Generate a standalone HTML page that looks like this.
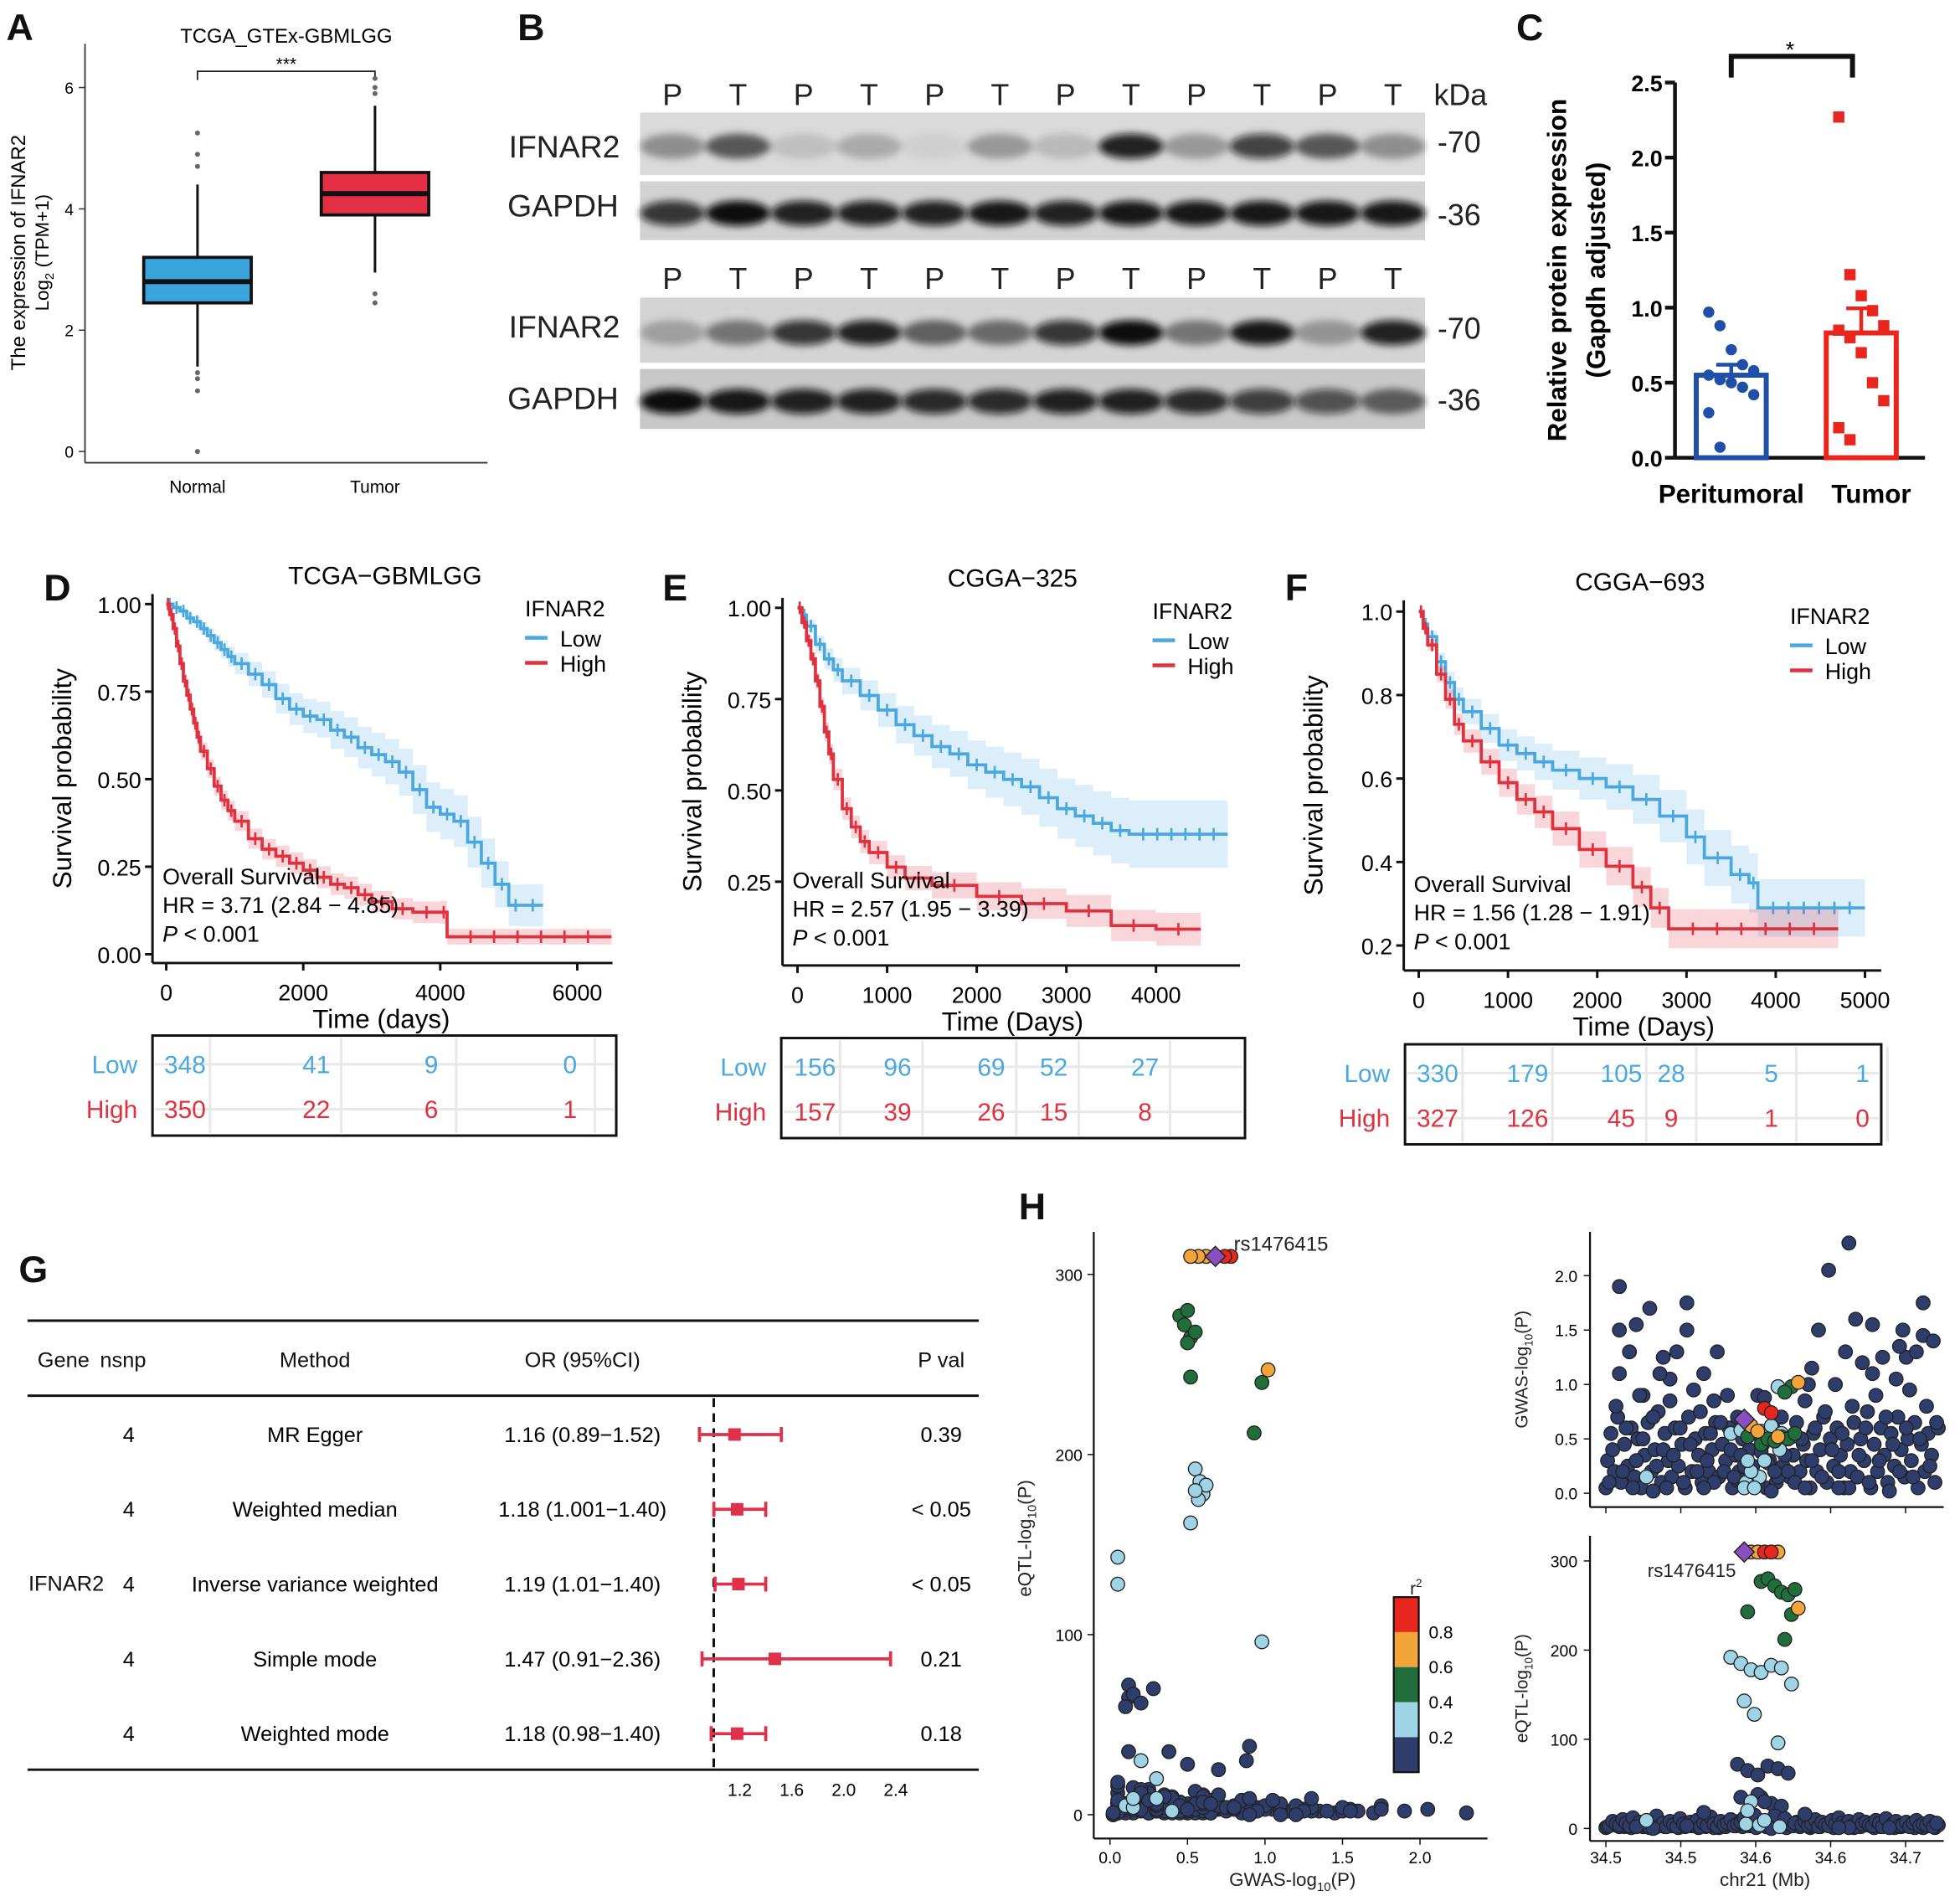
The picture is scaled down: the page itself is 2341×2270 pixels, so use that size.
<!DOCTYPE html>
<html><head><meta charset="utf-8">
<style>
html,body{margin:0;padding:0;background:#fff;}
svg{display:block;font-family:"Liberation Sans",Arial,sans-serif;}
</style></head>
<body>
<svg id="fig" width="2341" height="2270" viewBox="0 0 1568 1520" preserveAspectRatio="none" xmlns="http://www.w3.org/2000/svg">
<defs><filter id="blur" x="-30%" y="-80%" width="160%" height="260%"><feGaussianBlur stdDeviation="3"/></filter></defs>
<rect width="1568" height="1520" fill="#fff"/>
<g font-weight="bold" font-size="30" fill="#111">
<text x="5" y="32">A</text>
<text x="414" y="32">B</text>
<text x="1213" y="32">C</text>
<text x="35" y="480">D</text>
<text x="530" y="480">E</text>
<text x="1028" y="480">F</text>
<text x="15" y="1025">G</text>
<text x="815" y="975">H</text>
</g>
<g id="pA">
<text x="229" y="34" font-size="16" text-anchor="middle">TCGA_GTEx-GBMLGG</text>
<path d="M158 64 V57 H300 V64" fill="none" stroke="#222" stroke-width="1.2"/>
<text x="229" y="56" font-size="14" text-anchor="middle">***</text>
<line x1="68" y1="35" x2="68" y2="370" stroke="#333" stroke-width="1.2"/>
<line x1="68" y1="370" x2="390" y2="370" stroke="#333" stroke-width="1.2"/>
<text transform="translate(20,202) rotate(-90)" font-size="16" text-anchor="middle">The expression of IFNAR2</text>
<text transform="translate(39,202) rotate(-90)" font-size="15" text-anchor="middle">Log<tspan font-size="10" dy="4">2</tspan><tspan dy="-4"> (TPM+1)</tspan></text>
<text x="158" y="394" font-size="14" text-anchor="middle">Normal</text>
<text x="300" y="394" font-size="14" text-anchor="middle">Tumor</text>
</g>
<g id="pB">
<text x="407" y="126" font-size="25" fill="#222">IFNAR2</text>
<text x="406" y="173" font-size="25" fill="#222">GAPDH</text>
<text x="407" y="270" font-size="25" fill="#222">IFNAR2</text>
<text x="406" y="327" font-size="25" fill="#222">GAPDH</text>
<text x="1147" y="84" font-size="24" fill="#222">kDa</text>
<text x="1150" y="122" font-size="24" fill="#222">-70</text>
<text x="1150" y="180" font-size="24" fill="#222">-36</text>
<text x="1150" y="271" font-size="24" fill="#222">-70</text>
<text x="1150" y="328" font-size="24" fill="#222">-36</text>
</g>
<g id="pC">
<path d="M1385 62 V45 H1482 V62" fill="none" stroke="#111" stroke-width="4"/>
<text x="1432" y="46" font-size="18" text-anchor="middle">*</text>
<text transform="translate(1253,216) rotate(-90)" font-size="21" font-weight="bold" text-anchor="middle">Relative protein expression</text>
<text transform="translate(1284,216) rotate(-90)" font-size="21" font-weight="bold" text-anchor="middle">(Gapdh adjusted)</text>
<text x="1385" y="402" font-size="21" font-weight="bold" text-anchor="middle">Peritumoral</text>
<text x="1497" y="402" font-size="21" font-weight="bold" text-anchor="middle">Tumor</text>
</g>
<g id="pG" font-size="17" fill="#111">
<line x1="22" y1="1056" x2="783" y2="1056" stroke="#111" stroke-width="2"/>
<line x1="22" y1="1116" x2="783" y2="1116" stroke="#111" stroke-width="2"/>
<line x1="22" y1="1415" x2="783" y2="1415" stroke="#111" stroke-width="2"/>
<text x="30" y="1093">Gene</text>
<text x="80" y="1093">nsnp</text>
<text x="252" y="1093" text-anchor="middle">Method</text>
<text x="466" y="1093" text-anchor="middle">OR (95%CI)</text>
<text x="753" y="1093" text-anchor="middle">P val</text>
<text x="53" y="1272" text-anchor="middle">IFNAR2</text>
</g>
<g id="pH" font-size="13" fill="#222">
<line x1="875" y1="985" x2="875" y2="1470" stroke="#111" stroke-width="1.5"/>
<line x1="875" y1="1470" x2="1190" y2="1470" stroke="#111" stroke-width="1.5"/>
<text x="1034" y="1508" font-size="15" text-anchor="middle">GWAS-log<tspan font-size="10" dy="4">10</tspan><tspan dy="-4">(P)</tspan></text>
<text transform="translate(825,1230) rotate(-90)" font-size="15" text-anchor="middle">eQTL-log<tspan font-size="10" dy="4">10</tspan><tspan dy="-4">(P)</tspan></text>
<text x="987" y="1000" font-size="16">rs1476415</text>
<line x1="1272" y1="985" x2="1272" y2="1205" stroke="#111" stroke-width="1.5"/>
<line x1="1272" y1="1205" x2="1555" y2="1205" stroke="#111" stroke-width="1.5"/>
<text transform="translate(1222,1095) rotate(-90)" font-size="14" text-anchor="middle">GWAS-log<tspan font-size="9" dy="4">10</tspan><tspan dy="-4">(P)</tspan></text>
<line x1="1272" y1="1228" x2="1272" y2="1472" stroke="#111" stroke-width="1.5"/>
<line x1="1272" y1="1472" x2="1555" y2="1472" stroke="#111" stroke-width="1.5"/>
<text transform="translate(1222,1350) rotate(-90)" font-size="14" text-anchor="middle">eQTL-log<tspan font-size="9" dy="4">10</tspan><tspan dy="-4">(P)</tspan></text>
<text x="1412" y="1508" font-size="15" text-anchor="middle">chr21 (Mb)</text>
<text x="1318" y="1261" font-size="15">rs1476415</text>
<text x="1128" y="1275" font-size="14">r<tspan font-size="9" dy="-6">2</tspan></text>
</g>
<g id="dyn"></g>
</svg>
<script>
// ---------- DATA ----------
const boxGroups = ['Normal','Tumor'];
const boxQ1 = [2.45, 3.9];
const boxMed = [2.8, 4.25];
const boxQ3 = [3.2, 4.6];
const boxLo = [1.4, 2.95];
const boxHi = [4.4, 5.7];
const outNormal = [5.25, 4.7, 4.9, 1.2, 1.0, 0.0, 1.3];
const outTumor = [6.15, 6.0, 5.9, 2.6, 2.45];

const laneLabels = ['P','T','P','T','P','T','P','T','P','T','P','T'];
const blotIfnar1 = [0.35,0.6,0.12,0.22,0.05,0.3,0.15,0.9,0.3,0.75,0.6,0.35];
const blotGapdh1 = [0.8,1,0.9,0.9,0.9,0.95,0.9,0.95,0.95,0.95,0.95,0.95];
const blotIfnar2 = [0.25,0.45,0.8,0.9,0.55,0.5,0.8,1,0.45,0.95,0.3,0.9];
const blotGapdh2 = [1,0.95,0.9,0.9,0.85,0.85,0.9,0.9,0.85,0.75,0.65,0.55];

const cGroups = ['Peritumoral','Tumor'];
const cPeri = [0.97,0.88,0.72,0.62,0.58,0.55,0.52,0.5,0.47,0.42,0.3,0.07];
const cTumor = [2.27,1.22,1.08,0.98,0.88,0.85,0.8,0.7,0.5,0.38,0.2,0.12];
const cTicks = [0,0.5,1.0,1.5,2.0,2.5];

const dLowT = [0,100,200,300,400,500,600,700,800,900,1000,1200,1400,1600,1800,2000,2200,2400,2600,2800,3000,3200,3400,3600,3800,4000,4200,4400,4600,4800,5000,5200,5500];
const dLowS = [1,0.99,0.98,0.96,0.95,0.93,0.91,0.89,0.87,0.85,0.83,0.80,0.77,0.73,0.70,0.68,0.67,0.64,0.62,0.59,0.57,0.55,0.52,0.47,0.42,0.40,0.38,0.32,0.26,0.20,0.14,0.14,0.14];
const dHighT = [0,50,100,150,200,250,300,350,400,450,500,600,700,800,900,1000,1200,1400,1600,1800,2000,2200,2400,2600,2800,3000,3300,3600,4000,4100,6500];
const dHighS = [1,0.97,0.93,0.88,0.83,0.78,0.74,0.70,0.66,0.62,0.58,0.53,0.48,0.44,0.41,0.38,0.33,0.30,0.28,0.26,0.24,0.22,0.20,0.19,0.17,0.15,0.13,0.12,0.12,0.05,0.05];
const eLowT = [0,50,100,200,300,400,500,700,900,1100,1300,1500,1700,1900,2100,2300,2500,2700,2900,3100,3300,3500,3700,4800];
const eLowS = [1,0.98,0.95,0.9,0.86,0.83,0.8,0.76,0.72,0.68,0.65,0.62,0.6,0.57,0.55,0.53,0.51,0.48,0.45,0.43,0.41,0.39,0.38,0.38];
const eHighT = [0,50,100,150,200,250,300,350,400,500,600,700,800,1000,1200,1500,2000,2500,3000,3500,4000,4500];
const eHighS = [1,0.96,0.91,0.86,0.80,0.73,0.66,0.60,0.53,0.45,0.40,0.36,0.33,0.29,0.26,0.24,0.21,0.19,0.17,0.13,0.12,0.12];
const fLowT = [0,50,100,200,300,400,500,700,900,1100,1300,1500,1800,2100,2400,2700,3000,3200,3500,3700,3800,5000];
const fLowS = [1,0.97,0.94,0.88,0.83,0.79,0.76,0.72,0.68,0.66,0.64,0.62,0.60,0.58,0.55,0.51,0.46,0.41,0.37,0.35,0.29,0.29];
const fHighT = [0,50,100,200,300,400,500,700,900,1100,1300,1500,1800,2100,2400,2600,2800,4700];
const fHighS = [1,0.96,0.92,0.85,0.79,0.73,0.69,0.64,0.59,0.55,0.52,0.48,0.43,0.39,0.34,0.29,0.24,0.24];
const ciScale = {dLow:0.12,dHigh:0.09,eLow:0.15,eHigh:0.1,fLow:0.12,fHigh:0.1};

const dRiskLow = [348,41,9,0], dRiskHigh = [350,22,6,1];
const eRiskLow = [156,96,69,52,27], eRiskHigh = [157,39,26,15,8];
const fRiskLow = [330,179,105,28,5,1], fRiskHigh = [327,126,45,9,1,0];

const mrMethods = ['MR Egger','Weighted median','Inverse variance weighted','Simple mode','Weighted mode'];
const mrNsnp = [4,4,4,4,4];
const mrOR = [1.16,1.18,1.19,1.47,1.18];
const mrLo = [0.89,1.001,1.01,0.91,0.98];
const mrHi = [1.52,1.40,1.40,2.36,1.40];
const mrLoText = ['0.89','1.001','1.01','0.91','0.98'];
const mrHiText = ['1.52','1.40','1.40','2.36','1.40'];
const mrP = ['0.39','< 0.05','< 0.05','0.21','0.18'];
const mrTicks = [1.2,1.6,2.0,2.4];

// SNPs: [position(0-1), gwas -log10P, eqtl -log10P, r2 class]
const snpData = [
[0.44,0.62,310,3],[0.46,0.57,310,3],[0.48,0.78,310,4],[0.50,0.74,310,4],[0.52,0.52,310,3],
[0.47,0.45,277,2],[0.49,0.5,280,2],[0.51,0.48,272,2],[0.53,0.52,265,2],[0.55,0.5,262,2],[0.57,0.55,268,2],[0.58,1.02,247,3],[0.56,0.98,240,2],[0.54,0.93,212,2],[0.43,0.52,243,2],
[0.38,0.55,192,1],[0.41,0.58,185,1],[0.44,0.6,178,1],[0.47,0.57,175,1],[0.5,0.62,183,1],[0.53,0.55,180,1],[0.56,0.52,162,1],[0.42,0.05,143,1],[0.45,0.05,128,1],[0.52,0.98,96,1],
[0.4,0.12,72,0],[0.43,0.12,65,0],[0.46,0.1,60,0],[0.49,0.28,70,0],[0.52,0.15,67,0],[0.55,0.2,62,0],
[0.41,0.12,35,0],[0.44,0.2,30,1],[0.47,0.38,35,0],[0.5,0.5,28,0],[0.53,0.7,25,0],[0.46,0.9,38,0],[0.48,0.88,30,0],[0.43,0.3,20,1],
[0.02,0.1,3,0],[0.03,0.4,8,0],[0.04,0.8,5,0],[0.05,1.9,2,0],[0.05,1.5,4,0],[0.06,0.2,10,0],[0.07,0.6,6,0],[0.08,1.3,3,0],[0.09,0.05,12,0],[0.1,0.3,2,0],
[0.11,0.9,7,0],[0.12,0.5,4,0],[0.13,0.15,9,1],[0.14,1.7,1,0],[0.15,0.7,5,0],[0.16,0.25,14,0],[0.17,1.1,3,0],[0.18,0.4,6,0],[0.19,0.05,2,0],[0.2,0.85,8,0],
[0.21,0.35,4,0],[0.22,1.3,2,0],[0.23,0.6,11,0],[0.24,0.1,5,0],[0.25,1.5,3,0],[0.26,0.45,7,0],[0.27,0.95,4,0],[0.28,0.2,9,0],[0.29,0.75,2,0],[0.3,1.1,6,0],
[0.31,0.3,3,0],[0.32,0.55,13,0],[0.33,0.1,5,0],[0.34,1.3,2,0],[0.35,0.65,8,0],[0.36,0.2,4,0],[0.37,0.9,6,0],[0.38,0.4,10,0],[0.39,0.15,3,0],[0.4,0.7,5,0],
[0.41,0.35,7,0],[0.42,0.25,12,0],[0.45,0.15,15,0],[0.48,0.3,9,1],[0.51,0.2,14,0],[0.54,0.35,11,0],[0.57,0.1,6,0],[0.59,0.5,4,0],[0.6,0.85,8,0],[0.61,1.0,3,0],
[0.62,0.3,5,0],[0.63,0.6,10,0],[0.64,1.5,2,0],[0.65,0.15,7,0],[0.66,0.75,4,0],[0.67,2.05,3,0],[0.68,0.4,9,0],[0.69,1.0,5,0],[0.7,0.2,12,0],[0.71,0.55,6,0],
[0.72,1.3,4,0],[0.73,0.05,8,0],[0.74,0.8,3,0],[0.75,1.6,2,0],[0.76,0.35,10,0],[0.77,1.2,5,0],[0.78,0.6,7,0],[0.79,0.1,4,0],[0.8,1.55,3,0],[0.81,0.9,9,0],
[0.82,0.3,6,0],[0.83,1.25,2,0],[0.84,0.7,11,0],[0.73,2.3,1,0],[0.86,0.45,5,0],[0.87,1.05,8,0],[0.88,0.2,3,0],[0.89,1.5,4,0],[0.9,0.6,7,0],[0.91,0.95,2,0],
[0.92,0.15,6,0],[0.93,1.3,9,0],[0.94,0.5,3,0],[0.95,1.75,5,0],[0.96,0.8,4,0],[0.97,0.25,8,0],[0.98,1.4,2,0],[0.99,0.65,6,0],[0.25,1.75,3,0],[0.1,1.55,2,0],
[0.6,0.05,16,0],[0.3,0.05,18,0],[0.7,0.05,1,0],[0.15,0.02,0,0],[0.5,0.02,0,0],[0.85,0.02,1,0],[1.65,1.2,0,0],[1.9,0.9,0,0],[2.05,1.1,0,0]
];
// additional low-signal SNPs (dense base of the locus plots)
const snpBase = [
[0.01,0.05,1,0],[0.015,0.3,2,0],[0.025,0.55,4,0],[0.035,0.2,6,0],[0.045,0.7,3,0],[0.055,0.1,5,0],[0.065,0.45,2,0],[0.075,0.25,7,0],[0.085,0.6,1,0],[0.095,0.15,4,0],
[0.105,0.5,3,0],[0.115,0.05,6,0],[0.125,0.35,2,0],[0.135,0.65,5,0],[0.145,0.2,8,0],[0.155,0.4,1,0],[0.165,0.75,3,0],[0.175,0.1,4,0],[0.185,0.55,2,0],[0.195,0.3,6,0],
[0.205,0.15,3,0],[0.215,0.6,5,0],[0.225,0.25,1,0],[0.235,0.45,7,0],[0.245,0.05,2,0],[0.255,0.7,4,0],[0.265,0.2,3,0],[0.275,0.5,6,0],[0.285,0.35,1,0],[0.295,0.1,5,0],
[0.305,0.55,2,0],[0.315,0.2,4,0],[0.325,0.4,3,0],[0.335,0.65,7,0],[0.345,0.15,1,0],[0.355,0.45,5,0],[0.365,0.3,2,0],[0.375,0.6,6,0],[0.385,0.05,4,0],[0.395,0.35,3,0],
[0.405,0.2,8,0],[0.415,0.5,2,0],[0.425,0.1,5,1],[0.435,0.4,3,0],[0.445,0.25,6,0],[0.455,0.55,1,0],[0.465,0.15,4,1],[0.475,0.45,7,0],[0.485,0.05,2,0],[0.495,0.3,5,0],
[0.505,0.6,3,0],[0.515,0.1,6,0],[0.525,0.4,2,1],[0.535,0.25,4,0],[0.545,0.5,1,0],[0.555,0.15,5,0],[0.565,0.35,3,0],[0.575,0.65,7,0],[0.585,0.2,2,0],[0.595,0.45,4,0],
[0.605,0.3,6,0],[0.615,0.05,1,0],[0.625,0.55,3,0],[0.635,0.2,5,0],[0.645,0.4,2,0],[0.655,0.7,4,0],[0.665,0.1,6,0],[0.675,0.5,3,0],[0.685,0.25,1,0],[0.695,0.6,5,0],
[0.705,0.35,2,0],[0.715,0.05,7,0],[0.725,0.45,4,0],[0.735,0.2,3,0],[0.745,0.65,1,0],[0.755,0.15,5,0],[0.765,0.5,2,0],[0.775,0.3,6,0],[0.785,0.75,4,0],[0.795,0.05,3,0],
[0.805,0.45,1,0],[0.815,0.2,5,0],[0.825,0.6,2,0],[0.835,0.35,7,0],[0.845,0.1,4,0],[0.855,0.55,3,0],[0.865,0.25,1,0],[0.875,0.7,6,0],[0.885,0.4,2,0],[0.895,0.15,5,0],
[0.905,0.5,3,0],[0.915,0.3,4,0],[0.925,0.65,1,0],[0.935,0.05,6,0],[0.945,0.45,2,0],[0.955,0.2,5,0],[0.965,0.55,3,0],[0.975,0.35,7,0],[0.985,0.1,1,0],[0.995,0.6,4,0],
[0.12,0.9,2,0],[0.2,1.05,3,0],[0.33,0.85,1,0],[0.62,1.15,2,0],[0.8,1.1,4,0],[0.9,1.25,3,0],[0.95,1.45,1,0],[0.88,1.35,2,0],[0.05,1.1,5,0],[0.18,1.25,3,0]
];
const leadSnp = [0.42,0.68,310,5];
const r2Colors = ['#2e3d6b','#9fd3e6','#1f6e3b','#f3a53a','#e8261e','#8a4fbf'];
const r2Labels = ['0.2','0.4','0.6','0.8'];

// ---------- helpers ----------
const NS = 'http://www.w3.org/2000/svg';
const root = document.getElementById('dyn');
function mk(tag, attrs, parent){
  const e = document.createElementNS(NS, tag);
  for (const k in attrs) e.setAttribute(k, attrs[k]);
  (parent||root).appendChild(e);
  return e;
}
function txt(str, attrs, parent){ const e = mk('text', attrs, parent); e.textContent = str; return e; }

// ---------- Panel A ----------
const yA = v => 361 - 48.5*v;
const xA = i => 158 + i*142;
[0,2,4,6].forEach(v=>{
  const t = mk('line',{x1:63,x2:68,y1:yA(v),y2:yA(v),stroke:'#333'});
  
  
  const l = txt(String(v),{x:59,y:yA(v)+5,'font-size':13,'text-anchor':'end'});
  
  
});
const boxCols = ['#3aa5dc','#e42f45'];
boxGroups.forEach((g,i)=>{
  const cx = xA(i);
  const w = mk('line',{x1:cx,x2:cx,y1:yA(boxHi[i]),y2:yA(boxLo[i]),stroke:'#111','stroke-width':2});
  
  
  const b = mk('rect',{x:cx-43,y:yA(boxQ3[i]),width:86,height:yA(boxQ1[i])-yA(boxQ3[i]),fill:boxCols[i],stroke:'#111','stroke-width':2.5});
  
  
  const m = mk('line',{x1:cx-43,x2:cx+43,y1:yA(boxMed[i]),y2:yA(boxMed[i]),stroke:'#111','stroke-width':4});
  
  
  const outs = i===0 ? outNormal : outTumor;
  outs.forEach(v=>{
    const o = mk('circle',{cx:cx,cy:yA(v),r:2,fill:'#666'});
    
    
  });
});

// ---------- Panel B ----------
const laneX = i => 538 + i*52.4;
const strips = [[90,140,'#dadada',blotIfnar1,'ifnar2-blot-1'],[145,192,'#d2d2d2',blotGapdh1,'gapdh-blot-1'],[238,290,'#d4d4d4',blotIfnar2,'ifnar2-blot-2'],[295,343,'#c8c8c8',blotGapdh2,'gapdh-blot-2']];
strips.forEach(s=>{
  const r = mk('rect',{x:512,y:s[0],width:628,height:s[1]-s[0],fill:s[2]});
  
  
  s[3].forEach((v,i)=>{
    const e = mk('ellipse',{cx:laneX(i),cy:(s[0]+s[1])/2+2,rx:26,ry:10,fill:'#0a0a0a','fill-opacity':v,filter:'url(#blur)'});
    
    
  });
});
[75,222].forEach(yy=>{
  laneLabels.forEach((l,i)=>{
    const t = txt(l,{x:laneX(i),y:yy+9,'font-size':24,'text-anchor':'middle',fill:'#222'});
    
    
  });
});

// ---------- Panel C ----------
const yC = v => 366 - 120*v;
const xC = i => 1385 + i*104;
const ax = mk('line',{x1:1340,x2:1340,y1:yC(2.5),y2:yC(0),stroke:'#111','stroke-width':3});


const axx = mk('line',{x1:1340,x2:1540,y1:yC(0),y2:yC(0),stroke:'#111','stroke-width':3});


cTicks.forEach(v=>{
  const t = mk('line',{x1:1332,x2:1340,y1:yC(v),y2:yC(v),stroke:'#111','stroke-width':3});
  
  
  const l = txt(v.toFixed(1),{x:1330,y:yC(v)+7,'font-size':18,'font-weight':'bold','text-anchor':'end'});
  
  
});
const cCols = ['#1f4fa8','#e8261e'];
[cPeri,cTumor].forEach((arr,i)=>{
  const mean = arr.reduce((a,b)=>a+b,0)/arr.length;
  const sd = Math.sqrt(arr.reduce((a,b)=>a+(b-mean)*(b-mean),0)/(arr.length-1));
  const sem = sd/Math.sqrt(arr.length);
  const cx = xC(i);
  const b = mk('rect',{x:cx-28,y:yC(mean),width:56,height:yC(0)-yC(mean),fill:'none',stroke:cCols[i],'stroke-width':4});
  
  
  const e = mk('path',{d:`M${cx} ${yC(mean)} V${yC(mean+sem)} M${cx-12} ${yC(mean+sem)} H${cx+12}`,stroke:cCols[i],'stroke-width':3,fill:'none'});
  
  
  arr.forEach((v,j)=>{
    const dx = ((j%5)-2)*9;
    let p;
    if(i===0){ p = mk('circle',{cx:cx+dx,cy:yC(v),r:4.5,fill:cCols[i]}); }
    else { p = mk('rect',{x:cx+dx-4.5,y:yC(v)-4.5,width:9,height:9,fill:cCols[i]}); }
    
    
  });
});

// ---------- KM panels ----------
const BLUE='#4aa8df', RED='#e0313f';
function km(cfg){
  const X = t => cfg.x0 + t*cfg.kx;
  const Y = s => cfg.y1 - (s-cfg.s1)*cfg.ky;
  const g = mk('g',{});
  
  
  txt(cfg.title,{x:cfg.titleX,y:cfg.titleY,'font-size':20,'text-anchor':'middle'},g);
  const ya = mk('line',{x1:cfg.ax,x2:cfg.ax,y1:cfg.top,y2:cfg.bottom,stroke:'#111','stroke-width':2},g);
  
  
  const xa = mk('line',{x1:cfg.ax,x2:cfg.right,y1:cfg.bottom,y2:cfg.bottom,stroke:'#111','stroke-width':2},g);
  
  
  cfg.yt.forEach(v=>{
    mk('line',{x1:cfg.ax-6,x2:cfg.ax,y1:Y(v),y2:Y(v),stroke:'#111','stroke-width':2},g);
    const l = txt(v.toFixed(cfg.ydec),{x:cfg.ax-9,y:Y(v)+7,'font-size':18,'text-anchor':'end'},g);
    
    
  });
  cfg.xt.forEach(v=>{
    mk('line',{x1:X(v),x2:X(v),y1:cfg.bottom,y2:cfg.bottom+6,stroke:'#111','stroke-width':2},g);
    const l = txt(String(v),{x:X(v),y:cfg.bottom+30,'font-size':18,'text-anchor':'middle'},g);
    
    
  });
  txt(cfg.xtitle,{x:cfg.xtitleX,y:cfg.bottom+52,'font-size':21,'text-anchor':'middle'},g);
  txt('Survival probability',{transform:`translate(${cfg.ax-65},${(cfg.top+cfg.bottom)/2}) rotate(-90)`,'font-size':21,'text-anchor':'middle'},g);
  cfg.series.forEach(sr=>{
    const [T,S,k,col,nm] = sr;
    const tmax = T[T.length-1];
    const C = S.map((s,i)=>k*Math.sqrt(s*(1-s))*(0.5+T[i]/tmax));
    let up='', dn='';
    for(let i=0;i<T.length;i++){
      const tn = i<T.length-1 ? T[i+1] : T[i];
      up += (i?'L':'M')+X(T[i])+' '+Y(Math.min(1,S[i]+C[i]))+' L'+X(tn)+' '+Y(Math.min(1,S[i]+C[i]))+' ';
    }
    for(let i=T.length-1;i>=0;i--){
      const tn = i<T.length-1 ? T[i+1] : T[i];
      dn += 'L'+X(tn)+' '+Y(Math.max(0,S[i]-C[i]))+' L'+X(T[i])+' '+Y(Math.max(0,S[i]-C[i]))+' ';
    }
    const band = mk('path',{d:up+dn+'Z',fill:col,'fill-opacity':0.2,stroke:'none'},g);
    
    
    let d = 'M'+X(T[0])+' '+Y(S[0]);
    for(let i=1;i<T.length;i++) d += ' H'+X(T[i])+' V'+Y(S[i]);
    const line = mk('path',{d:d,fill:'none',stroke:col,'stroke-width':2.5},g);
    
    
    let cd='';
    for(let i=0;i<T.length-1;i++){
      const n = (T[i+1]-T[i])>800 ? 6 : 1;
      for(let kk=1;kk<=n;kk++){
        const t = T[i]+(T[i+1]-T[i])*kk/(n+1);
        cd += `M${X(t)} ${Y(S[i])-5} V${Y(S[i])+5} `;
      }
    }
    const cens = mk('path',{d:cd,stroke:col,'stroke-width':1.8},g);
    
    
  });
  txt('IFNAR2',{x:cfg.legX,y:cfg.legY,'font-size':18},g);
  mk('line',{x1:cfg.legX,x2:cfg.legX+18,y1:cfg.legY+17,y2:cfg.legY+17,stroke:BLUE,'stroke-width':3},g);
  txt('Low',{x:cfg.legX+28,y:cfg.legY+24,'font-size':18},g);
  mk('line',{x1:cfg.legX,x2:cfg.legX+18,y1:cfg.legY+37,y2:cfg.legY+37,stroke:RED,'stroke-width':3},g);
  txt('High',{x:cfg.legX+28,y:cfg.legY+44,'font-size':18},g);
  txt('Overall Survival',{x:cfg.annX,y:cfg.annY,'font-size':18},g);
  txt(cfg.hr,{x:cfg.annX,y:cfg.annY+23,'font-size':18},g);
  const p = txt('',{x:cfg.annX,y:cfg.annY+46,'font-size':18},g);
  p.innerHTML = '<tspan font-style="italic">P</tspan> &lt; 0.001';
  const tb = mk('rect',{x:cfg.tx,y:cfg.ty,width:cfg.tw,height:80,fill:'none',stroke:'#111','stroke-width':2},g);
  
  
  cfg.tcols.forEach(cx=>{
    mk('line',{x1:cx+20,x2:cx+20,y1:cfg.ty+2,y2:cfg.ty+78,stroke:'#e8e8e8','stroke-width':2},g);
  });
  [cfg.ty+23,cfg.ty+59].forEach(yy=>mk('line',{x1:cfg.tx+2,x2:cfg.tx+cfg.tw-2,y1:yy,y2:yy,stroke:'#e8e8e8','stroke-width':2},g));
  txt('Low',{x:cfg.tx-12,y:cfg.ty+30,'font-size':20,fill:BLUE,'text-anchor':'end'},g);
  txt('High',{x:cfg.tx-12,y:cfg.ty+66,'font-size':20,fill:RED,'text-anchor':'end'},g);
  cfg.riskLow.forEach((v,i)=>{
    const t = txt(String(v),{x:cfg.tcols[i],y:cfg.ty+30,'font-size':20,fill:BLUE,'text-anchor':'middle'},g);
    
    
  });
  cfg.riskHigh.forEach((v,i)=>{
    const t = txt(String(v),{x:cfg.tcols[i],y:cfg.ty+66,'font-size':20,fill:RED,'text-anchor':'middle'},g);
    
    
  });
}
km({name:'panel-d-km',title:'TCGA−GBMLGG',titleX:308,titleY:467,x0:133,kx:0.0548,y1:483,s1:1,ky:280,ax:122,top:475,bottom:770,right:490,
  yt:[0,0.25,0.5,0.75,1],ydec:2,xt:[0,2000,4000,6000],xtitle:'Time (days)',xtitleX:305,
  series:[[dLowT,dLowS,ciScale.dLow,BLUE,'low'],[dHighT,dHighS,ciScale.dHigh,RED,'high']],
  legX:420,legY:493,annX:130,annY:707,hr:'HR = 3.71 (2.84 − 4.85)',
  tx:122,ty:828,tw:371,tcols:[148,253,345,456],riskLow:dRiskLow,riskHigh:dRiskHigh});
km({name:'panel-e-km',title:'CGGA−325',titleX:810,titleY:469,x0:638,kx:0.0717,y1:486,s1:1,ky:292,ax:626,top:478,bottom:772,right:992,
  yt:[0.25,0.5,0.75,1],ydec:2,xt:[0,1000,2000,3000,4000],xtitle:'Time (Days)',xtitleX:810,
  series:[[eLowT,eLowS,ciScale.eLow,BLUE,'low'],[eHighT,eHighS,ciScale.eHigh,RED,'high']],
  legX:922,legY:495,annX:634,annY:710,hr:'HR = 2.57 (1.95 − 3.39)',
  tx:625,ty:830,tw:371,tcols:[652,718,793,843,916],riskLow:eRiskLow,riskHigh:eRiskHigh});
km({name:'panel-f-km',title:'CGGA−693',titleX:1312,titleY:472,x0:1135,kx:0.0714,y1:489,s1:1,ky:333.75,ax:1123,top:480,bottom:776,right:1505,
  yt:[0.2,0.4,0.6,0.8,1.0],ydec:1,xt:[0,1000,2000,3000,4000,5000],xtitle:'Time (Days)',xtitleX:1315,
  series:[[fLowT,fLowS,ciScale.fLow,BLUE,'low'],[fHighT,fHighS,ciScale.fHigh,RED,'high']],
  legX:1432,legY:499,annX:1131,annY:713,hr:'HR = 1.56 (1.28 − 1.91)',
  tx:1124,ty:835,tw:381,tcols:[1150,1222,1297,1337,1417,1490],riskLow:fRiskLow,riskHigh:fRiskHigh});

// ---------- Panel G ----------
const xG = v => 571 + (v-1)*104;
const rowY = i => 1153 + i*59.8;
const dash = mk('line',{x1:xG(1),x2:xG(1),y1:1118,y2:1415,stroke:'#111','stroke-width':2,'stroke-dasharray':'7,5'});


mrTicks.forEach(v=>{
  const l = txt(v.toFixed(1),{x:xG(v),y:1436,'font-size':14,'text-anchor':'middle'});
  
  
});
mrMethods.forEach((m,i)=>{
  const y = rowY(i);
  txt(String(mrNsnp[i]),{x:103,y:y,'font-size':17,'text-anchor':'middle'});
  const mt = txt(m,{x:252,y:y,'font-size':17,'text-anchor':'middle'});
  
  
  txt(mrOR[i].toFixed(2)+' ('+mrLoText[i]+'−'+mrHiText[i]+')',{x:466,y:y,'font-size':17,'text-anchor':'middle'});
  txt(mrP[i],{x:753,y:y,'font-size':17,'text-anchor':'middle'});
  const cy = y-6;
  const ci = mk('path',{d:`M${xG(mrLo[i])} ${cy} H${xG(mrHi[i])} M${xG(mrLo[i])} ${cy-6} V${cy+6} M${xG(mrHi[i])} ${cy-6} V${cy+6}`,stroke:'#e0314a','stroke-width':2.5,fill:'none'});
  
  
  const pt = mk('rect',{x:xG(mrOR[i])-5,y:cy-5,width:10,height:10,fill:'#e0314a'});
  
  
});

// ---------- Panel H ----------
const xHL = v => 888 + v*124;
const yHL = v => 1451 - v*1.44;
const xPos = p => 1282 + p*270;
const yTop = v => 1194 - v*87;
const yBot = v => 1462 - v*0.713;
[0,100,200,300].forEach(v=>{
  mk('line',{x1:870,x2:875,y1:yHL(v),y2:yHL(v),stroke:'#111'});
  const l = txt(String(v),{x:866,y:yHL(v)+5,'font-size':13,'text-anchor':'end'});
  
  
  mk('line',{x1:1267,x2:1272,y1:yBot(v),y2:yBot(v),stroke:'#111'});
  const l2 = txt(String(v),{x:1262,y:yBot(v)+5,'font-size':13,'text-anchor':'end'});
  
  
});
[0,0.5,1.0,1.5,2.0].forEach(v=>{
  mk('line',{x1:xHL(v),x2:xHL(v),y1:1470,y2:1475,stroke:'#111'});
  const l = txt(v.toFixed(1),{x:xHL(v),y:1490,'font-size':13,'text-anchor':'middle'});
  
  
  mk('line',{x1:1267,x2:1272,y1:yTop(v),y2:yTop(v),stroke:'#111'});
  const l2 = txt(v.toFixed(1),{x:1262,y:yTop(v)+5,'font-size':13,'text-anchor':'end'});
  
  
});
const posTickLabels = ['34.5','34.5','34.6','34.6','34.7'];
posTickLabels.forEach((s,i)=>{
  const p = 0.01 + i*0.222;
  mk('line',{x1:xPos(p),x2:xPos(p),y1:1205,y2:1210,stroke:'#111'});
  mk('line',{x1:xPos(p),x2:xPos(p),y1:1472,y2:1477,stroke:'#111'});
  const l = txt(s,{x:xPos(p),y:1490,'font-size':13,'text-anchor':'middle'});
  
  
});
function dot(cx,cy,cls){
  let e;
  if(cls===5){
    e = mk('path',{d:`M${cx} ${cy-8} L${cx+8} ${cy} L${cx} ${cy+8} L${cx-8} ${cy} Z`,fill:r2Colors[5],stroke:'#222','stroke-width':1});
    
    
  } else {
    e = mk('circle',{cx:cx,cy:cy,r:5.5,fill:r2Colors[cls],stroke:'#222','stroke-width':0.9});
    
    
  }
  return e;
}
const ordered = snpBase.concat(snpData).sort((a,b)=>a[3]-b[3]);
ordered.forEach(s=>{
  dot(xHL(s[1]), yHL(s[2]), s[3]);
  if(s[0]<=1){
    dot(xPos(s[0]), yTop(Math.min(s[1],2.3)), s[3]);
    dot(xPos(s[0]), yBot(s[2]), s[3]);
  }
});
dot(xHL(leadSnp[1]), yHL(leadSnp[2]), 5);
dot(xPos(leadSnp[0]), yTop(leadSnp[1]), 5);
dot(xPos(leadSnp[0]), yBot(leadSnp[2]), 5);
const legCols = [r2Colors[4],r2Colors[3],r2Colors[2],r2Colors[1],r2Colors[0]];
legCols.forEach((c,i)=>{
  const r = mk('rect',{x:1115,y:1277+i*28,width:20,height:28,fill:c});
  
  
});
const lb = mk('rect',{x:1115,y:1277,width:20,height:140,fill:'none',stroke:'#111','stroke-width':1.5});


r2Labels.slice().reverse().forEach((s,i)=>{
  const l = txt(s,{x:1143,y:1310+i*28,'font-size':14});
  
  
});
</script>
</body></html>
